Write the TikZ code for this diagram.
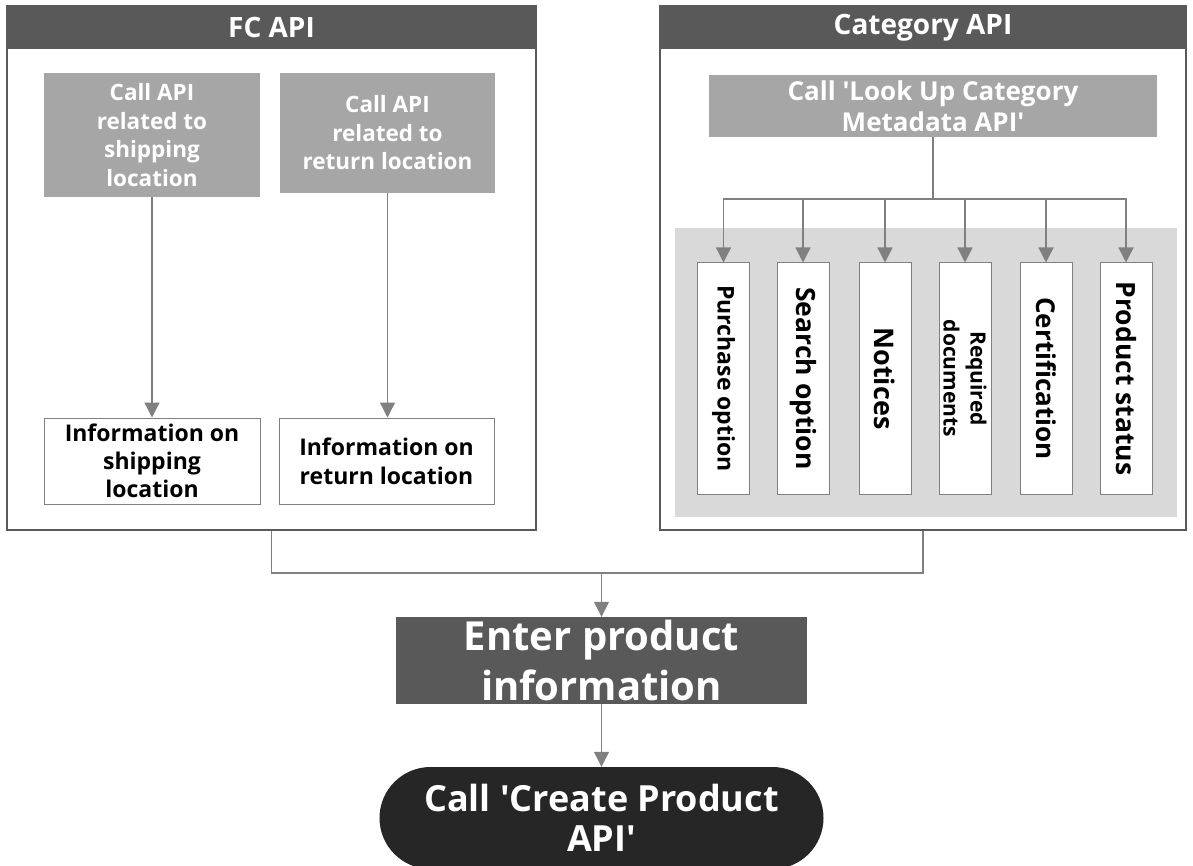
\documentclass[tikz,border=0pt]{standalone}
\usepackage{fontspec}
\setmainfont{Open Sans}
\usetikzlibrary{arrows.meta}
\definecolor{dg}{HTML}{595959}
\definecolor{mg}{HTML}{A6A6A6}
\definecolor{lg}{HTML}{D9D9D9}
\definecolor{ln}{HTML}{808080}
\definecolor{bk}{HTML}{262626}
\newcommand{\fs}[2]{\fontsize{#1}{#2}\selectfont}
\newcommand{\sq}{\textquotesingle}
\begin{document}
\begin{tikzpicture}[x=1pt,y=-1pt,
  every node/.style={inner sep=0pt, align=center, font=\bfseries},
  panel/.style={rectangle, draw=dg, line width=2.5pt, fill=white},
  header/.style={rectangle, fill=dg, text=white, minimum height=43pt, font=\bfseries\fs{28}{32}},
  graybox/.style={rectangle, fill=mg, text=white, font=\bfseries\fs{22.5}{28.5}},
  whitebox/.style={rectangle, fill=white, draw=ln, line width=1pt},
  vbox/.style={whitebox, minimum width=52pt, minimum height=231pt},
  vtext/.style={rotate=-90},
  conn/.style={draw=ln, line width=1.3pt},
  arr/.style={conn, -{Triangle[width=15pt,length=15pt]}}
]
\clip (0,0) rectangle (1193,866);
\fill[white] (0,0) rectangle (1193,866);

% panels
\node[panel, minimum width=529pt, minimum height=524pt] (fc) at (271.5,268) {};
\node[header, minimum width=529pt] (fch) at (271.5,27.5) {FC API};
\node[panel, minimum width=526pt, minimum height=524pt] (cat) at (923,268) {};
\node[header, minimum width=526pt] (cath) at (923,27.5) {Category API};

% FC content
\node[graybox, minimum width=216pt, minimum height=124pt] (cship) at (152,135) {Call API\\related to\\shipping\\location};
\node[graybox, minimum width=215pt, minimum height=120pt] (cret) at (387.5,133) {Call API\\related to\\return location};
\node[whitebox, minimum width=216pt, minimum height=86pt, font=\bfseries\fs{23}{28}] (iship) at (152,461) {Information on\\shipping\\location};
\node[whitebox, minimum width=215pt, minimum height=86pt, font=\bfseries\fs{23}{29}] (iret) at (386.5,461) {Information on\\return location};
\draw[arr] (cship) -- (iship);
\draw[arr] (cret.south) -- (cret.south |- iret.north);

% Category content
\node[graybox, minimum width=448pt, minimum height=62pt, font=\bfseries\fs{26}{31}] (look) at (933,106) {Call \sq Look Up Category\\Metadata API\sq};
\node[rectangle, fill=lg, minimum width=502pt, minimum height=289pt] (bg) at (926,372.5) {};
\node[vbox] (b1) at (723.5,378.5) {};
\node[vbox] (b2) at (803,378.5) {};
\node[vbox] (b3) at (885,378.5) {};
\node[vbox] (b4) at (965,378.5) {};
\node[vbox] (b5) at (1046,378.5) {};
\node[vbox] (b6) at (1126,378.5) {};
\node[vtext, font=\bfseries\fs{23}{26}] (t1) at (b1) {Purchase option};
\node[vtext, font=\bfseries\fs{26.5}{30}] (t2) at (b2) {Search option};
\node[vtext, font=\bfseries\fs{27}{30}] (t3) at (b3) {Notices};
\node[vtext, font=\bfseries\fs{21}{27}] (t4) at (b4) {Required\\documents};
\node[vtext, font=\bfseries\fs{26}{30}] (t5) at (b5) {Certification};
\node[vtext, font=\bfseries\fs{26.5}{30}] (t6) at (b6) {Product status};
\coordinate (bus) at (933,199);
\draw[conn] (look.south) -- (bus);
\foreach \b in {b1,b2,b3,b4,b5,b6} {\draw[arr] (bus) -| (\b.north);}

% bottom
\node[rectangle, fill=dg, text=white, minimum width=411pt, minimum height=87pt, font=\bfseries\fs{40}{50}] (enter) at (601.5,660.5) {Enter product\\information};
\node[rectangle, rounded corners=51pt, fill=bk, text=white, minimum width=444pt, minimum height=102pt, font=\bfseries\fs{36}{40}] (create) at (601.5,818) {Call \sq Create Product\\API\sq};
\coordinate (m) at (601.5,573);
\draw[conn] (fc.south) |- (m);
\draw[conn] (cat.south) |- (m);
\draw[arr] (m) -- (enter.north);
\draw[arr] (enter.south) -- (create.north);
\end{tikzpicture}
\end{document}
